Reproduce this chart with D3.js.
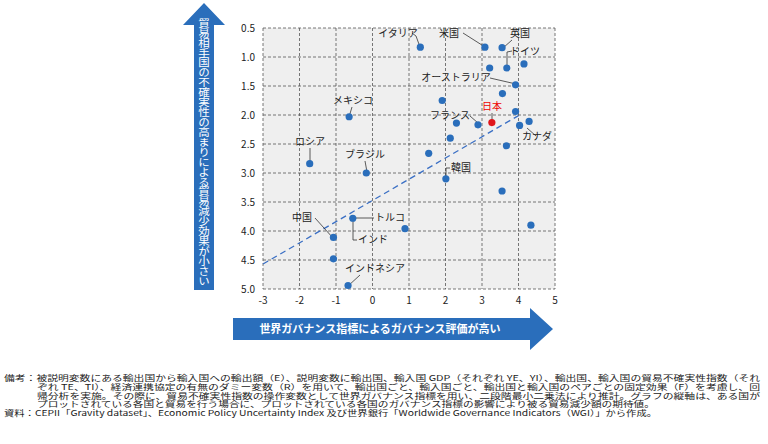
<!DOCTYPE html>
<html><head><meta charset="utf-8">
<script src="https://cdn.jsdelivr.net/npm/d3@7"></script>
<style>body{margin:0;background:#fff}text{font-family:"Noto Sans CJK JP","Noto Sans",sans-serif}</style>
</head><body><svg id="c" width="768" height="444"></svg>
<script>
const names=["イタリア","米国","英国","","ドイツ","","オーストラリア","","","","","日本","フランス","","カナダ","","","","韓国","","","メキシコ","ロシア","ブラジル","トルコ","","中国","","インドネシア","インド"];
const xs=[1.31,3.08,3.55,3.21,3.68,4.15,3.92,3.56,1.91,3.92,4.29,3.27,2.89,2.30,4.03,2.13,3.67,1.54,2.01,3.55,4.34,-0.64,-1.72,-0.17,-0.54,0.89,-1.07,-1.07,-0.67];
const ys=[0.83,0.83,0.84,1.19,1.19,1.12,1.48,1.63,1.75,1.94,2.11,2.13,2.17,2.14,2.18,2.40,2.53,2.66,3.10,3.31,3.90,2.03,2.84,3.00,3.78,3.96,4.11,4.48,4.94];
const xTicks=[-3,-2,-1,0,1,2,3,4,5];
const yTicks=[0.5,1.0,1.5,2.0,2.5,3.0,3.5,4.0,4.5,5.0];
const trend=[[-3,4.57],[4,2.01]];
const notes=["備考：被説明変数にある輸出国から輸入国への輸出額（E）、説明変数に輸出国、輸入国 GDP（それぞれ YE、YI）、輸出国、輸入国の貿易不確実性指数（それ",
"ぞれ TE、TI）、経済連携協定の有無のダミー変数（R）を用いて、輸出国ごと、輸入国ごと、輸出国と輸入国のペアごとの固定効果（F）を考慮し、回",
"帰分析を実施。その際に、貿易不確実性指数の操作変数として世界ガバナンス指標を用い、二段階最小二乗法により推計。グラフの縦軸は、ある国が",
"プロットされている各国と貿易を行う場合に、プロットされている各国のガバナンス指標の影響により被る貿易減少額の期待値。",
"資料：CEPII「Gravity dataset」、Economic Policy Uncertainty Index 及び世界銀行「Worldwide Governance Indicators（WGI）」から作成。"];
const svg=d3.select("#c");
const x=d3.scaleLinear().domain([-3,5]).range([263,555]);
const y=d3.scaleLinear().domain([0.5,5]).range([28,289]);
svg.append("rect").attr("x",263).attr("y",28).attr("width",292).attr("height",261).attr("fill","#efefef");
const g=svg.append("g");
xTicks.forEach(t=>g.append("line").attr("x1",x(t)).attr("x2",x(t)).attr("y1",28).attr("y2",289).attr("stroke","#555").attr("stroke-dasharray","3,2").attr("stroke-width",0.8));
yTicks.forEach(t=>g.append("line").attr("x1",263).attr("x2",555).attr("y1",y(t)).attr("y2",y(t)).attr("stroke","#555").attr("stroke-dasharray","3,2").attr("stroke-width",0.8));
xTicks.forEach(t=>svg.append("text").attr("x",x(t)).attr("y",304).attr("text-anchor","middle").attr("font-size",10).attr("fill","#222").text(t));
yTicks.forEach(t=>svg.append("text").attr("x",255).attr("y",y(t)+4).attr("text-anchor","end").attr("font-size",10).attr("fill","#222").text(t.toFixed(1)));
svg.append("path").attr("d",d3.line().x(d=>x(d[0])).y(d=>y(d[1]))(trend)).attr("stroke","#3a6fc4").attr("stroke-dasharray","6,4").attr("stroke-width",1.3).attr("fill","none");
const lab=[[0,398,37,"middle",[[412,33],[416,36],[420,47]]],[1,449,37,"middle",[[463,33],[485,47]]],[2,520,37,"middle",[[512,40],[503,48]]],
[4,525,55,"middle",[[512,51],[507,52],[507,66]]],[6,456,81,"middle",[[490,78],[516,84]]],[11,492,110,"middle",[[492,113],[492,121]]],
[12,450,119,"middle",[[470,116],[478,123]]],[14,537,140,"middle",[[527,128],[536,136]]],[18,461,171,"middle",[[450,168],[446,168],[446,176]]],
[21,353,104,"middle",[[352,107],[349,117]]],[22,310,145,"middle",[[310,148],[310,163]]],[23,365,158,"middle",[[365,161],[367,172]]],
[24,390,221,"middle",[[374,218],[353,218]]],[28,375,272,"middle",[[360,275],[348,286]]],[26,302,221,"middle",[[315,218],[333,238]]]];
lab.forEach(l=>{const i=l[0];
 svg.append("polyline").attr("points",l[4].map(p=>p.join(",")).join(" ")).attr("fill","none").attr("stroke","#333").attr("stroke-width",0.8);
 svg.append("text").attr("x",l[1]).attr("y",l[2]).attr("text-anchor",l[3]).attr("font-size",10).attr("fill",i==11?"#e00":"#222").text(names[i]);});
svg.append("polyline").attr("points","353,218 353,240 357,240").attr("fill","none").attr("stroke","#333").attr("stroke-width",0.8);
svg.append("text").attr("x",373).attr("y",243).attr("text-anchor","middle").attr("font-size",10).attr("fill","#222").text(names[29]);
xs.forEach((v,i)=>svg.append("circle").attr("cx",x(v)).attr("cy",y(ys[i])).attr("r",3.6).attr("fill",i==11?"#e0161b":"#2a6ebb"));
svg.append("path").attr("d","M194,290 L194,25 L183,25 L204,3 L225,25 L214,25 L214,290 Z").attr("fill","#2a6ebb");
svg.append("text").attr("transform","translate(204,18)").attr("writing-mode","tb").attr("font-size",11.5).attr("fill","#fff").attr("textLength",268).attr("lengthAdjust","spacingAndGlyphs").text("貿易相手国の不確実性の高まりによる貿易減少効果が小さい");
svg.append("path").attr("d","M233,318 L530,318 L530,308 L553,329 L530,350 L530,340 L233,340 Z").attr("fill","#2a6ebb");
svg.append("text").attr("x",380).attr("y",333).attr("text-anchor","middle").attr("font-size",11).attr("font-weight","bold").attr("fill","#fff").text("世界ガバナンス指標によるガバナンス評価が高い");
const nx=[4,37,37,37,4], nw=[756,723,723,618,653];
notes.forEach((n,i)=>svg.append("text").attr("x",nx[i]).attr("y",381+i*8.8).attr("font-size",8).attr("fill","#222")
 .attr("textLength",nw[i]).attr("lengthAdjust","spacingAndGlyphs").text(n));
</script></body></html>
